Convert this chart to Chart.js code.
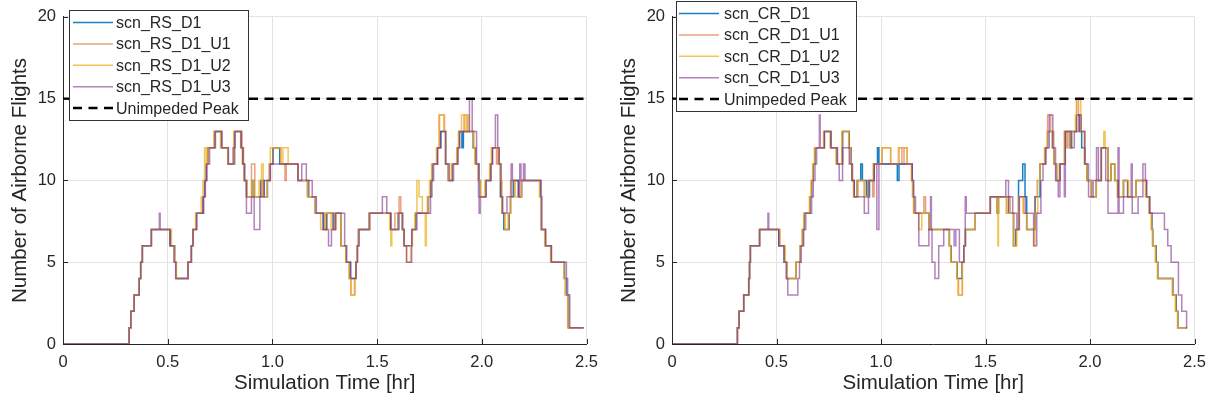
<!DOCTYPE html>
<html><head><meta charset="utf-8">
<script src="https://cdn.jsdelivr.net/npm/chart.js@4.4.1/dist/chart.umd.min.js"></script>
<style>
html,body{margin:0;padding:0;background:#fff;width:1215px;height:405px;overflow:hidden}
.panel{position:absolute;top:0;height:405px}
#p1{left:0;width:607px}
#p2{left:607px;width:608px}
canvas{display:block}
</style></head><body>
<div class="panel" id="p1"><canvas id="c1" width="607" height="405" style="width:607px;height:405px"></canvas></div>
<div class="panel" id="p2"><canvas id="c2" width="608" height="405" style="width:608px;height:405px"></canvas></div>
<script>
// ---------- data ----------
const xTicks = [0, 0.5, 1, 1.5, 2, 2.5];
const yTicks = [0, 5, 10, 15, 20];
const unimpededPeak = 15;
const xTitle = 'Simulation Time [hr]';
const yTitle = 'Number of Airborne Flights';
const leftLabels = ['scn_RS_D1', 'scn_RS_D1_U1', 'scn_RS_D1_U2', 'scn_RS_D1_U3'];
const rightLabels = ['scn_CR_D1', 'scn_CR_D1_U1', 'scn_CR_D1_U2', 'scn_CR_D1_U3'];
const peakLabel = 'Unimpeded Peak';

// [time (hr), airborne flights] change points (value holds until next point)
const rsD1 = [[0,0],[.316,1],[.324,2],[.340,3],[.364,4],[.371,5],[.379,6],[.422,7],[.513,6],[.533,5],[.541,4],[.597,5],[.613,6],[.621,7],[.636,8],[.668,9],[.676,10],[.684,11],[.692,12],[.724,13],[.756,12],[.787,11],[.819,13],[.851,12],[.859,11],[.867,10],[.876,9],[.905,10],[.913,9],[.944,10],[.960,9],[.976,10],[.990,11],[1.003,12],[1.035,11],[1.122,10],[1.170,9],[1.205,8],[1.245,7],[1.258,8],[1.290,7],[1.300,8],[1.327,6],[1.351,5],[1.371,4],[1.398,5],[1.405,6],[1.411,7],[1.462,8],[1.565,7],[1.600,8],[1.621,7],[1.629,6],[1.668,7],[1.684,8],[1.745,9],[1.756,10],[1.764,11],[1.787,12],[1.803,13],[1.827,11],[1.840,10],[1.859,11],[1.883,12],[1.891,13],[1.905,12],[1.912,13],[1.958,12],[1.970,11],[1.986,10],[1.992,9],[2.018,10],[2.041,11],[2.049,12],[2.081,11],[2.089,9],[2.097,8],[2.105,7],[2.130,8],[2.137,9],[2.150,10],[2.175,9],[2.190,10],[2.280,9],[2.284,7],[2.303,6],[2.330,5],[2.395,4],[2.404,3],[2.414,1],[2.486,1]];
const rsD1U1 = [[0,0],[.316,1],[.324,2],[.340,3],[.364,4],[.371,5],[.379,6],[.422,7],[.510,6],[.533,5],[.541,4],[.597,5],[.613,6],[.621,7],[.636,8],[.668,9],[.676,10],[.684,11],[.692,12],[.724,13],[.756,12],[.787,11],[.819,13],[.855,12],[.862,11],[.867,10],[.876,9],[.900,11],[.916,9],[.944,10],[.952,9],[.976,10],[.984,11],[1.003,12],[1.040,11],[1.060,10],[1.066,11],[1.122,10],[1.176,9],[1.205,8],[1.250,7],[1.262,8],[1.290,7],[1.305,8],[1.327,6],[1.351,5],[1.368,4],[1.375,3],[1.392,4],[1.398,5],[1.405,6],[1.411,7],[1.462,8],[1.565,7],[1.585,8],[1.605,9],[1.613,8],[1.621,7],[1.629,6],[1.668,7],[1.684,8],[1.740,9],[1.756,10],[1.764,11],[1.787,12],[1.798,14],[1.822,13],[1.827,11],[1.840,10],[1.859,11],[1.883,12],[1.891,13],[1.915,14],[1.930,13],[1.962,12],[1.970,11],[1.986,10],[1.992,9],[2.018,10],[2.041,11],[2.049,12],[2.070,11],[2.076,12],[2.081,11],[2.089,9],[2.097,8],[2.110,7],[2.130,8],[2.137,9],[2.155,10],[2.175,9],[2.190,10],[2.280,9],[2.284,7],[2.303,6],[2.330,5],[2.392,4],[2.398,3],[2.410,1],[2.486,1]];
const rsD1U2 = [[0,0],[.316,1],[.324,2],[.340,3],[.364,4],[.371,5],[.379,6],[.422,7],[.518,6],[.533,5],[.541,4],[.597,5],[.613,6],[.621,7],[.633,8],[.660,9],[.668,10],[.676,12],[.684,11],[.692,12],[.720,13],[.752,12],[.787,11],[.815,13],[.848,12],[.856,11],[.864,10],[.880,9],[.905,10],[.913,9],[.936,10],[.948,11],[.956,9],[.976,10],[.990,12],[1.040,11],[1.050,12],[1.075,11],[1.122,10],[1.165,9],[1.205,8],[1.230,7],[1.250,8],[1.280,7],[1.300,8],[1.327,6],[1.351,5],[1.365,4],[1.375,3],[1.395,4],[1.400,5],[1.405,6],[1.411,7],[1.462,8],[1.560,7],[1.565,6],[1.570,7],[1.600,8],[1.621,7],[1.629,6],[1.642,5],[1.660,6],[1.668,7],[1.680,8],[1.690,10],[1.700,9],[1.716,8],[1.730,6],[1.735,8],[1.745,9],[1.750,10],[1.760,11],[1.783,12],[1.795,14],[1.818,13],[1.827,11],[1.840,10],[1.855,11],[1.880,12],[1.888,13],[1.903,14],[1.920,13],[1.930,14],[1.938,13],[1.958,12],[1.966,11],[1.982,10],[1.995,9],[2.015,10],[2.037,11],[2.045,12],[2.081,11],[2.089,10],[2.097,8],[2.110,7],[2.125,8],[2.137,10],[2.160,9],[2.190,10],[2.275,9],[2.284,7],[2.300,6],[2.328,5],[2.392,4],[2.400,3],[2.412,1],[2.486,1]];
const rsD1U3 = [[0,0],[.316,1],[.324,2],[.340,3],[.364,4],[.371,5],[.379,6],[.422,7],[.460,8],[.464,7],[.510,6],[.530,5],[.538,4],[.597,5],[.613,6],[.621,7],[.640,8],[.672,9],[.680,10],[.688,11],[.700,12],[.728,13],[.760,12],[.790,11],[.812,12],[.822,13],[.850,12],[.858,11],[.866,10],[.876,8],[.900,9],[.913,7],[.940,9],[.960,10],[.990,11],[1.122,10],[1.140,11],[1.162,10],[1.190,9],[1.210,8],[1.240,7],[1.268,6],[1.282,7],[1.300,8],[1.345,6],[1.355,5],[1.375,4],[1.400,5],[1.407,6],[1.414,7],[1.466,8],[1.525,9],[1.546,8],[1.565,7],[1.605,8],[1.621,7],[1.629,6],[1.640,5],[1.665,7],[1.690,8],[1.755,9],[1.762,10],[1.770,11],[1.790,12],[1.805,13],[1.827,11],[1.845,10],[1.865,11],[1.887,12],[1.895,13],[1.941,15],[1.954,13],[1.975,11],[1.984,9],[1.987,8],[1.992,9],[2.021,10],[2.045,11],[2.052,12],[2.065,14],[2.076,12],[2.083,11],[2.092,9],[2.100,8],[2.120,9],[2.140,11],[2.146,10],[2.175,9],[2.181,11],[2.187,10],[2.199,11],[2.206,10],[2.283,9],[2.287,7],[2.306,6],[2.333,5],[2.404,4],[2.410,3],[2.420,1],[2.486,1]];

const crD1 = [[0,0],[.313,1],[.321,2],[.343,3],[.367,4],[.371,5],[.375,6],[.419,7],[.511,6],[.538,5],[.549,4],[.594,5],[.614,6],[.625,7],[.633,8],[.660,9],[.668,10],[.676,11],[.684,12],[.729,13],[.760,12],[.788,11],[.816,13],[.848,12],[.856,11],[.863,10],[.872,9],[.885,10],[.903,11],[.911,10],[.930,9],[.945,10],[.967,11],[.983,12],[.990,11],[1.078,10],[1.086,11],[1.149,10],[1.152,9],[1.157,8],[1.229,7],[1.327,6],[1.335,5],[1.364,4],[1.388,5],[1.396,6],[1.404,7],[1.451,8],[1.523,9],[1.556,8],[1.562,9],[1.610,8],[1.634,6],[1.645,7],[1.658,10],[1.678,11],[1.689,9],[1.697,7],[1.737,9],[1.761,11],[1.785,12],[1.797,13],[1.820,12],[1.827,11],[1.840,10],[1.856,11],[1.880,13],[1.904,12],[1.912,13],[1.935,14],[1.951,13],[1.960,12],[1.975,11],[1.985,10],[2.007,9],[2.030,10],[2.054,12],[2.086,10],[2.100,11],[2.118,10],[2.134,9],[2.160,10],[2.180,9],[2.220,10],[2.269,9],[2.285,8],[2.296,7],[2.300,6],[2.316,5],[2.324,4],[2.396,3],[2.412,2],[2.420,1],[2.464,1]];
const crD1U1 = [[0,0],[.313,1],[.321,2],[.343,3],[.367,4],[.371,5],[.375,6],[.419,7],[.511,6],[.538,5],[.549,4],[.594,5],[.614,6],[.625,7],[.633,8],[.660,9],[.668,10],[.676,11],[.684,12],[.729,13],[.760,12],[.788,11],[.816,13],[.848,12],[.856,11],[.863,10],[.872,9],[.890,10],[.920,9],[.935,10],[.960,9],[.967,11],[1.006,12],[1.046,11],[1.086,12],[1.100,11],[1.110,12],[1.125,11],[1.149,10],[1.152,9],[1.157,8],[1.205,9],[1.213,8],[1.229,7],[1.327,6],[1.335,5],[1.364,4],[1.371,3],[1.388,5],[1.396,6],[1.404,7],[1.451,8],[1.523,9],[1.556,8],[1.562,9],[1.600,8],[1.610,9],[1.618,8],[1.634,6],[1.645,7],[1.658,9],[1.681,8],[1.697,7],[1.737,9],[1.747,10],[1.761,11],[1.785,12],[1.797,14],[1.812,13],[1.827,11],[1.840,10],[1.856,11],[1.880,13],[1.888,12],[1.895,13],[1.935,15],[1.945,14],[1.951,13],[1.975,11],[1.985,10],[2.007,9],[2.030,10],[2.054,12],[2.086,10],[2.100,11],[2.118,10],[2.134,9],[2.160,10],[2.180,9],[2.220,10],[2.269,9],[2.285,8],[2.296,7],[2.300,6],[2.316,5],[2.324,4],[2.396,3],[2.412,2],[2.420,1],[2.464,1]];
const crD1U2 = [[0,0],[.313,1],[.321,2],[.343,3],[.367,4],[.371,5],[.375,6],[.419,7],[.518,6],[.541,5],[.549,4],[.594,5],[.614,6],[.622,7],[.630,8],[.657,9],[.665,10],[.673,11],[.681,12],[.725,13],[.756,12],[.784,11],[.812,13],[.845,12],[.852,11],[.860,10],[.868,9],[.885,10],[.920,9],[.940,10],[.962,11],[1.003,12],[1.046,11],[1.083,12],[1.125,11],[1.145,10],[1.150,9],[1.155,8],[1.180,7],[1.195,8],[1.229,7],[1.327,6],[1.333,5],[1.362,4],[1.368,3],[1.390,5],[1.396,6],[1.404,7],[1.451,8],[1.523,9],[1.556,8],[1.559,6],[1.562,9],[1.600,8],[1.634,6],[1.650,7],[1.660,9],[1.681,8],[1.697,7],[1.732,6],[1.737,8],[1.750,10],[1.761,11],[1.782,12],[1.795,13],[1.820,12],[1.827,11],[1.838,10],[1.852,11],[1.876,13],[1.904,12],[1.912,13],[1.930,14],[1.937,15],[1.956,13],[1.972,11],[1.985,10],[2.005,9],[2.030,10],[2.054,12],[2.066,13],[2.072,12],[2.086,10],[2.100,11],[2.118,10],[2.130,9],[2.160,10],[2.185,9],[2.220,10],[2.265,9],[2.282,8],[2.292,7],[2.298,6],[2.312,5],[2.322,4],[2.393,3],[2.408,2],[2.418,1],[2.464,1]];
const crD1U3 = [[0,0],[.313,1],[.321,2],[.343,3],[.367,4],[.371,5],[.375,6],[.419,7],[.459,8],[.463,7],[.511,6],[.535,5],[.546,4],[.554,3],[.602,4],[.610,5],[.618,6],[.630,7],[.640,8],[.668,9],[.676,10],[.684,11],[.692,12],[.705,14],[.709,12],[.729,13],[.760,12],[.792,11],[.800,10],[.816,12],[.848,11],[.860,10],[.872,9],[.920,8],[.940,10],[.967,11],[.980,7],[.990,11],[1.149,10],[1.157,9],[1.165,8],[1.181,6],[1.229,7],[1.237,9],[1.241,7],[1.244,5],[1.258,4],[1.276,6],[1.300,7],[1.350,6],[1.358,7],[1.375,5],[1.396,6],[1.403,9],[1.408,8],[1.523,9],[1.597,10],[1.610,9],[1.630,8],[1.650,7],[1.662,9],[1.690,8],[1.730,6],[1.745,8],[1.765,10],[1.775,11],[1.790,12],[1.805,14],[1.822,12],[1.835,10],[1.848,9],[1.856,11],[1.877,9],[1.882,13],[1.910,12],[1.925,13],[1.945,14],[1.958,13],[1.975,11],[1.993,9],[2.015,10],[2.031,12],[2.040,10],[2.054,12],[2.075,10],[2.086,8],[2.134,12],[2.139,8],[2.160,9],[2.197,11],[2.202,8],[2.230,9],[2.253,11],[2.265,10],[2.272,9],[2.285,8],[2.356,7],[2.372,6],[2.388,5],[2.423,3],[2.439,2],[2.462,1],[2.466,1]];

// ---------- styling ----------
const seriesColors = ['rgba(0,114,189,0.9)', 'rgba(217,83,25,0.55)', 'rgba(237,177,32,0.75)', 'rgba(126,47,142,0.6)'];
const FONT = '"Liberation Sans", Arial, Helvetica, sans-serif';
const TXT = '#262626';

const inwardTicks = {
  id: 'inwardTicks',
  afterDatasetsDraw(chart) {
    const {ctx, chartArea: a, scales: {x, y}} = chart;
    ctx.save();
    ctx.strokeStyle = TXT; ctx.lineWidth = 1;
    ctx.beginPath();
    xTicks.forEach(v => { const px = Math.round(x.getPixelForValue(v)) + 0.5; ctx.moveTo(px, a.bottom); ctx.lineTo(px, a.bottom - 5); });
    yTicks.forEach(v => { const py = Math.round(y.getPixelForValue(v)) + 0.5; ctx.moveTo(a.left, py); ctx.lineTo(a.left + 5, py); });
    ctx.stroke();
    ctx.restore();
  }
};

const boxLegend = {
  id: 'boxLegend',
  afterDraw(chart, args, o) {
    const ctx = chart.ctx;
    ctx.save();
    ctx.fillStyle = '#fff';
    ctx.fillRect(o.x, o.y, o.w, o.h);
    ctx.strokeStyle = '#333'; ctx.lineWidth = 1;
    ctx.strokeRect(o.x + 0.5, o.y + 0.5, o.w, o.h);
    chart.data.datasets.forEach((ds, i) => {
      const yy = o.row0 + i * o.step;
      ctx.beginPath();
      ctx.setLineDash(ds.borderDash || []);
      ctx.strokeStyle = ds.borderColor;
      ctx.lineWidth = ds.borderDash ? 2.5 : 1.5;
      ctx.moveTo(o.lx0, yy); ctx.lineTo(o.lx1, yy); ctx.stroke();
      ctx.setLineDash([]);
      ctx.fillStyle = TXT;
      ctx.font = '16px ' + FONT;
      ctx.textBaseline = 'middle';
      ctx.fillText(ds.label, o.tx, yy + 1);
    });
    ctx.restore();
  }
};

function makeChart(id, labels, series, yWidth, yTitlePad, legendOpts) {
  const datasets = series.map((s, i) => ({
    label: labels[i],
    data: s.map(p => ({x: p[0], y: p[1]})),
    stepped: true,
    borderColor: seriesColors[i],
    borderWidth: 1.5,
    pointRadius: 0,
    fill: false,
    order: 4 - i
  }));
  datasets.push({
    label: peakLabel,
    data: [{x: xTicks[0], y: unimpededPeak}, {x: xTicks[xTicks.length - 1], y: unimpededPeak}],
    borderColor: '#000', borderWidth: 2.5, borderDash: [9, 6.5],
    pointRadius: 0, fill: false, order: 0
  });
  return new Chart(document.getElementById(id), {
    type: 'line',
    data: {datasets},
    plugins: [inwardTicks, boxLegend],
    options: {
      responsive: false, animation: false, devicePixelRatio: 1,
      layout: {padding: {left: 0, right: 18, top: 15, bottom: 0}},
      plugins: {legend: {display: false}, tooltip: {enabled: false}, boxLegend: legendOpts},
      scales: {
        x: {
          type: 'linear', min: xTicks[0], max: xTicks[xTicks.length - 1],
          afterBuildTicks: s => { s.ticks = xTicks.map(v => ({value: v})); },
          afterFit: s => { s.height = 61; },
          grid: {color: '#e3e3e3', drawTicks: false, lineWidth: 1},
          border: {display: true, color: TXT, width: 1},
          ticks: {padding: 9, color: TXT, font: {family: FONT, size: 16.5}, maxRotation: 0, autoSkip: false},
          title: {display: true, text: xTitle, color: TXT, font: {family: FONT, size: 20.5}, padding: {top: 0, bottom: 9.5}}
        },
        y: {
          type: 'linear', min: yTicks[0], max: yTicks[yTicks.length - 1],
          afterBuildTicks: s => { s.ticks = yTicks.map(v => ({value: v})); },
          afterFit: s => { s.width = yWidth; },
          grid: {color: '#e3e3e3', drawTicks: false, lineWidth: 1},
          border: {display: true, color: TXT, width: 1},
          ticks: {padding: 7, color: TXT, font: {family: FONT, size: 16.5}},
          title: {display: true, text: yTitle, color: TXT, font: {family: FONT, size: 20.5}, padding: {top: yTitlePad, bottom: 0}}
        }
      }
    }
  });
}

makeChart('c1', leftLabels, [rsD1, rsD1U1, rsD1U2, rsD1U3], 63, 8.5,
  {x: 69, y: 10, w: 179, h: 110, row0: 22.5, step: 21.4, lx0: 73, lx1: 113, tx: 116});
makeChart('c2', rightLabels, [crD1, crD1U1, crD1U2, crD1U3], 65, 10.5,
  {x: 69, y: 1, w: 180, h: 110, row0: 13.5, step: 21.4, lx0: 72, lx1: 112, tx: 117});
</script>
</body></html>
